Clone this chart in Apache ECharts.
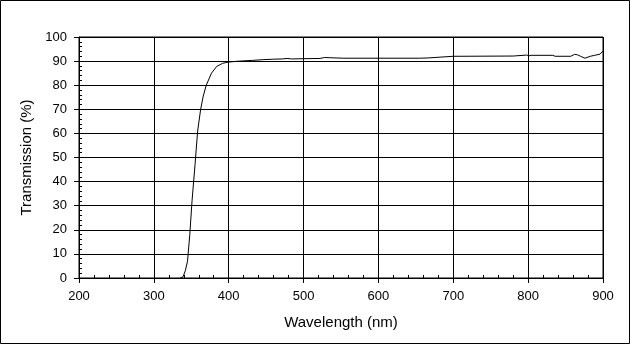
<!DOCTYPE html>
<html>
<head>
<meta charset="utf-8">
<script src="https://cdn.jsdelivr.net/npm/echarts@6/dist/echarts.min.js"></script>
<style>
html,body{margin:0;padding:0;background:#fff;}
#chart{width:630px;height:344px;}
</style>
</head>
<body>
<div id="chart"></div>
<script>
const wavelength = [335,339,342,345,348,351,355,358.5,362.5,366,370,377,384,392,400,410,420,432,446,460,472,478,484,500,522,528,535,553,600,655,666,668,700,702,710,780,782,798,801,804,833,836,857,862,866,870,876,883,889,896,900];
const transmission = [0,0.5,3,7,18,32,47,61,70,75.5,80,85,87.8,89.1,89.6,89.9,90.1,90.3,90.6,90.8,90.9,91.1,90.9,91.0,91.1,91.5,91.4,91.2,91.2,91.2,91.3,91.8,92.0,92.2,92.0,92.1,92.5,92.5,92.2,92.4,92.4,92.0,92.0,92.8,92.6,92.0,91.2,92.0,92.4,92.9,94.2];
const xTitle = 'Wavelength (nm)';
const yTitle = 'Transmission (%)';

const chart = echarts.init(document.getElementById('chart'), null, {renderer:'canvas'});
const font = 'Liberation Sans, Arial, sans-serif';
chart.setOption({
  animation:false,
  backgroundColor:'#fff',
  grid:{left:79,right:27,top:37,bottom:66,show:true,borderColor:'#000',borderWidth:1},
  xAxis:{
    type:'value',min:200,max:900,interval:100,
    name:xTitle,nameLocation:'middle',nameGap:37,
    nameTextStyle:{color:'#000',fontSize:15,fontFamily:font},
    axisLine:{show:true,lineStyle:{color:'#000',width:1}},
    axisTick:{show:true,length:5,lineStyle:{color:'#000'}},
    minorTick:{show:true,splitNumber:5,length:-3,lineStyle:{color:'#000'}},
    axisLabel:{color:'#000',fontSize:13,fontFamily:font,margin:12},
    splitLine:{show:true,lineStyle:{color:'#000',width:1}}
  },
  yAxis:{
    type:'value',min:0,max:100,interval:10,
    name:yTitle,nameLocation:'middle',nameGap:43,
    nameTextStyle:{color:'#000',fontSize:15,fontFamily:font},
    axisLine:{show:true,lineStyle:{color:'#000',width:1}},
    axisTick:{show:true,length:5,lineStyle:{color:'#000'}},
    minorTick:{show:true,splitNumber:5,length:-3,lineStyle:{color:'#000'}},
    axisLabel:{color:'#000',fontSize:13,fontFamily:font,margin:12},
    splitLine:{show:true,lineStyle:{color:'#000',width:1}}
  },
  graphic:[{type:'rect',shape:{x:0.5,y:0.5,width:629,height:343},style:{fill:null,stroke:'#000',lineWidth:1},silent:true}],
  series:[{
    type:'line',
    data:wavelength.map((w,i)=>[w,transmission[i]]),
    showSymbol:false,
    lineStyle:{color:'#000',width:1},
    z:5
  }]
});
</script>
</body>
</html>
